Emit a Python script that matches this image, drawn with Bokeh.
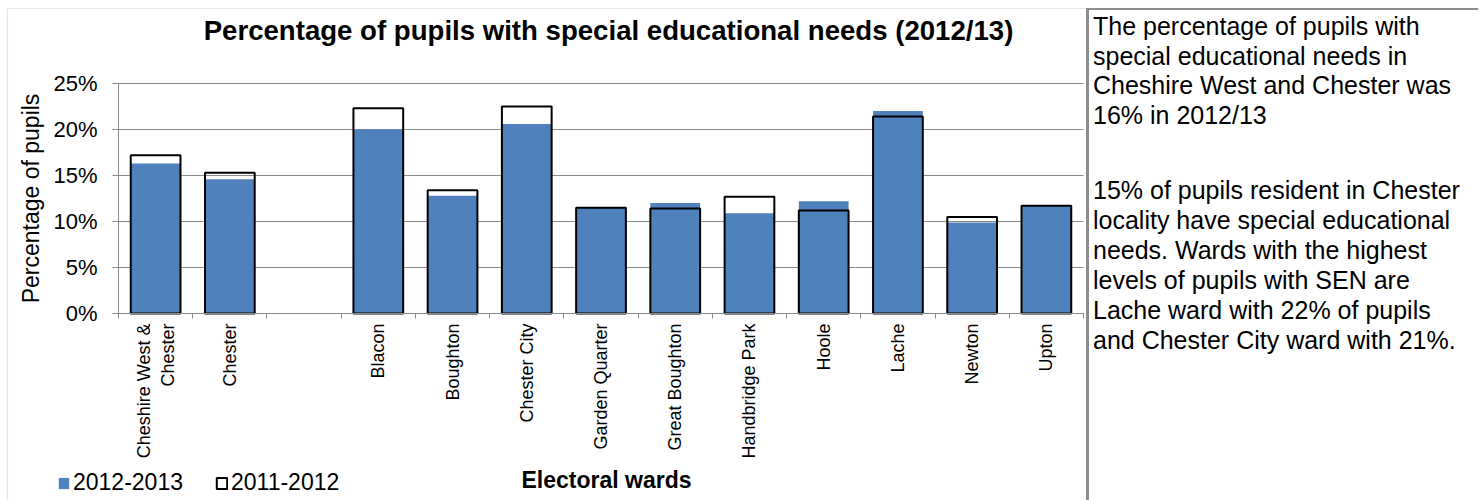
import math
from bokeh.plotting import figure
from bokeh.layouts import row
from bokeh.models import (Range1d, LinearAxis, FixedTicker, PrintfTickFormatter, Legend,
                          LegendItem, Label, BoxAnnotation, Div, ColumnDataSource)
from bokeh.embed import file_html
from bokeh.resources import INLINE

# ---------------- data ----------------
wards = ["Cheshire West & Chester", "Chester", "Blacon", "Boughton", "Chester City",
         "Garden Quarter", "Great Boughton", "Handbridge Park", "Hoole", "Lache",
         "Newton", "Upton"]
sen_2012_13 = [16.3, 14.6, 20.0, 12.8, 20.6, 11.5, 12.0, 10.9, 12.2, 22.0, 9.9, 11.7]
sen_2011_12 = [17.2, 15.3, 22.3, 13.4, 22.5, 11.5, 11.4, 12.7, 11.2, 21.4, 10.5, 11.7]
y_ticks = [0, 5, 10, 15, 20, 25]
series_labels = ["2012-2013", "2011-2012"]
title_text = "Percentage of pupils with special educational needs (2012/13)"
x_title = "Electoral wards"
y_title = "Percentage of pupils"
para1 = ["The percentage of pupils with", "special educational needs in",
         "Cheshire West and Chester was", "16% in 2012/13"]
para2 = ["15% of pupils resident in Chester", "locality have special educational",
         "needs. Wards with the highest", "levels of pupils with SEN are",
         "Lache ward with 22% of pupils", "and Chester City ward with 21%."]

# category slots on the x axis: the two summary areas, an empty slot, then the wards
slots = wards[:2] + [None] + wards[2:]
slot_of = {w: i for i, w in enumerate(slots) if w is not None}
x_pos = [slot_of[w] for w in wards]
tick_labels = {slot_of[w]: w.replace(" & ", " &\n") for w in wards}

FONT = "Liberation Sans"
BLUE = "#4F81BD"
GRID = "#8a8a8a"

# ---------------- canvas geometry (pixels) ----------------
W, H = 1086, 500
PX_L, PX_R, PX_T, PX_B = 118, 1083, 83, 313       # plot area edges
n_slots = len(slots)
PXU = (PX_R - PX_L) / n_slots                        # px per slot
PYU = (PX_B - PX_T) / y_ticks[-1]                    # px per percent
x0 = -0.5 - PX_L / PXU
x1 = x0 + W / PXU
y1 = y_ticks[-1] + PX_T / PYU
y0 = y1 - H / PYU


def dx(px):
    return x0 + px / PXU


def dy(py):
    return y1 - py / PYU


src = ColumnDataSource(dict(x=x_pos, a=sen_2012_13, b=sen_2011_12))

p = figure(x_range=Range1d(x0, x1), y_range=Range1d(y0, y1), width=W, height=H,
           output_backend="svg", toolbar_location=None,
           x_axis_location=None, y_axis_location=None, min_border=0)
p.min_border_left = p.min_border_right = p.min_border_top = p.min_border_bottom = 0
p.outline_line_color = None
p.background_fill_color = "white"
p.border_fill_color = "white"
p.grid.visible = False

# horizontal gridlines: inward ticks of an underlay axis spanning the plot area
grid_axis = LinearAxis(fixed_location=-0.5, bounds=(0, y_ticks[-1]),
                       ticker=FixedTicker(ticks=y_ticks),
                       major_tick_in=PX_R - PX_L, major_tick_out=0,
                       major_tick_line_color=GRID, major_tick_line_width=1.2,
                       axis_line_color=None, minor_tick_line_color=None,
                       major_label_text_font_size="0px", major_label_text_color=None,
                       level="underlay")
p.add_layout(grid_axis, "left")

# bars
r1 = p.vbar(x="x", top="a", width=0.67, source=src, fill_color=BLUE, line_color=None)
r2 = p.vbar(x="x", top="b", width=0.67, source=src, fill_color=None,
            line_color="black", line_width=2)

# y axis
ya = LinearAxis(fixed_location=-0.5, bounds=(0, y_ticks[-1]),
                ticker=FixedTicker(ticks=y_ticks),
                formatter=PrintfTickFormatter(format="%d%%"),
                major_label_text_font=FONT, major_label_text_font_size="22px",
                major_label_text_color="black", major_tick_in=0, major_tick_out=6,
                minor_tick_line_color=None, major_tick_line_color=GRID,
                axis_line_color=GRID, major_label_standoff=15,
                axis_label=y_title, axis_label_text_font=FONT,
                axis_label_text_font_size="23px", axis_label_text_font_style="normal",
                axis_label_text_color="black", axis_label_standoff=6)
p.add_layout(ya, "left")

# x axis line with tick marks at slot boundaries
tick_axis = LinearAxis(fixed_location=0, bounds=(-0.5, n_slots - 0.5),
                       ticker=FixedTicker(ticks=[i - 0.5 for i in range(n_slots + 1)]),
                       major_label_text_font_size="0px", major_label_text_color=None,
                       major_label_standoff=0, major_tick_in=0, major_tick_out=5,
                       major_tick_line_color=GRID, axis_line_color=GRID,
                       minor_tick_line_color=None)
p.add_layout(tick_axis, "below")

# category labels at slot centres
label_axis = LinearAxis(fixed_location=0, bounds=(-0.35, n_slots - 0.5),
                        ticker=FixedTicker(ticks=sorted(tick_labels)),
                        major_label_overrides=tick_labels,
                        major_tick_line_color=None, axis_line_color=None,
                        minor_tick_line_color=None,
                        major_label_orientation=math.pi / 2,
                        major_label_text_font=FONT, major_label_text_font_size="18px",
                        major_label_text_color="black", major_label_standoff=4,
                        axis_label=x_title, axis_label_text_font=FONT,
                        axis_label_text_font_size="23px",
                        axis_label_text_font_style="bold",
                        axis_label_text_color="black", axis_label_standoff=5)
p.add_layout(label_axis, "below")

# legend (bottom-left corner)
legend = Legend(items=[LegendItem(label=series_labels[0], renderers=[r1]),
                       LegendItem(label=series_labels[1], renderers=[r2])],
                location=(57, 4), orientation="horizontal",
                border_line_color=None, background_fill_alpha=0,
                padding=0, margin=0, glyph_width=13, glyph_height=14,
                label_standoff=3, spacing=32,
                label_text_font=FONT, label_text_font_size="23px",
                label_text_color="black")
p.add_layout(legend, "center")

# title
p.add_layout(Label(x=dx(608), y=dy(30), text=title_text, text_font=FONT,
                   text_font_size="27.6px", text_font_style="bold", text_color="black",
                   text_align="center", text_baseline="middle"))

# chart border
p.add_layout(BoxAnnotation(left=dx(7), right=dx(W + 50), top=dy(8), bottom=dy(H + 50),
                           fill_color=None, fill_alpha=0, line_color="#a8a8a8",
                           line_width=1.2))

# side text panel
def para_html(lines, extra):
    return ("<div style='%s'>" % extra) + "<br>".join(lines) + "</div>"

side_html = ("<div style=\"font-family:'Liberation Sans',Arial,sans-serif;font-size:25px;"
             "color:black;box-sizing:border-box;width:392px;height:492px;margin-top:8px;"
             "border-left:3px solid #8c8c8c;border-top:2px solid #8c8c8c;"
             "padding-left:4px;padding-top:2px;white-space:nowrap;overflow:hidden;\">"
             + para_html(para1, "line-height:29.5px;")
             + para_html(para2, "line-height:30px;margin-top:45px;")
             + "</div>")
side = Div(text=side_html, width=392, height=H, margin=0)

layout = row(p, side)
open("out.html", "w").write(file_html(layout, INLINE))
